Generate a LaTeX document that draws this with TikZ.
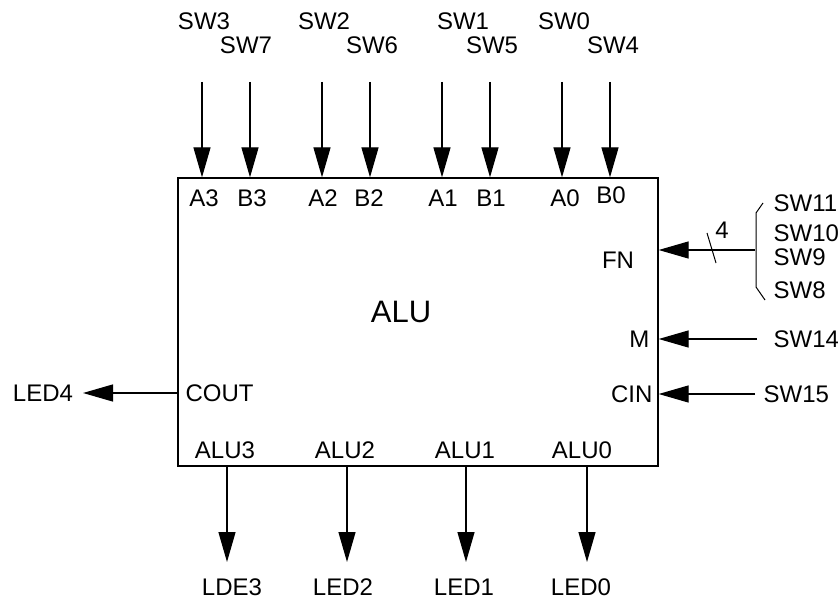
\documentclass[tikz,border=0pt]{standalone}
\usepackage{fontspec}
\setmainfont{Liberation Sans}
\usetikzlibrary{arrows.meta, positioning, calc}

\begin{document}
\begin{tikzpicture}[x=1pt, y=-1pt, line width=1.3pt, font=\fontsize{24}{28}\selectfont,
    sig/.style={-{Triangle[length=30pt,width=17pt]}},
    lab/.style={inner sep=0pt}]
        \useasboundingbox (0,0) rectangle (838,599);
        \node[draw, inner sep=0pt, minimum width=480pt, minimum height=288pt] (alu) at (418,322) {};
        \node[lab, font=\fontsize{31}{35}\selectfont] (name) at (401,312) {ALU};

        % switches on the top
        \node[lab] (sw3) at (204,21) {SW3};
        \node[lab] (sw7) at (246,45) {SW7};
        \node[lab] (sw2) at (324,21) {SW2};
        \node[lab] (sw6) at (372,45) {SW6};
        \node[lab] (sw1) at (463,21) {SW1};
        \node[lab] (sw5) at (492,45) {SW5};
        \node[lab] (sw0) at (564,21) {SW0};
        \node[lab] (sw4) at (613,45) {SW4};

        \node[lab] (a3) at (204,198) {A3};
        \node[lab] (b3) at (252,198) {B3};
        \node[lab] (a2) at (323,198) {A2};
        \node[lab] (b2) at (369,198) {B2};
        \node[lab] (a1) at (443,198) {A1};
        \node[lab] (b1) at (491,198) {B1};
        \node[lab] (a0) at (565,198) {A0};
        \node[lab] (b0) at (611,195) {B0};

        \coordinate (ta3) at (202,82);
        \coordinate (tb3) at (250,82);
        \coordinate (ta2) at (322,82);
        \coordinate (tb2) at (370,82);
        \coordinate (ta1) at (442,82);
        \coordinate (tb1) at (490,82);
        \coordinate (ta0) at (562,82);
        \coordinate (tb0) at (610,82);
        \draw[sig] (ta3) -- (ta3 |- alu.north);
        \draw[sig] (tb3) -- (tb3 |- alu.north);
        \draw[sig] (ta2) -- (ta2 |- alu.north);
        \draw[sig] (tb2) -- (tb2 |- alu.north);
        \draw[sig] (ta1) -- (ta1 |- alu.north);
        \draw[sig] (tb1) -- (tb1 |- alu.north);
        \draw[sig] (ta0) -- (ta0 |- alu.north);
        \draw[sig] (tb0) -- (tb0 |- alu.north);

        % function select bus
        \node[lab] (fn) at (618,260) {FN};
        \coordinate (fnsrc) at (755,250);
        \draw[sig] (fnsrc) -- (fnsrc -| alu.east);
        \draw[line width=1pt] (707,233) -- (716,263);
        \node[lab] (fnw) at (722,230) {4};
        \draw[line width=1pt] (763,203) -- (756,213) -- (756,287) -- (765,300);
        \node[lab, anchor=west] (sw11) at (773,203) {SW11};
        \node[lab, anchor=west] (sw10) at (773,233) {SW10};
        \node[lab, anchor=west] (sw9) at (773,257) {SW9};
        \node[lab, anchor=west] (sw8) at (773,290) {SW8};

        \node[lab, anchor=east] (m) at (650,339) {M};
        \coordinate (msrc) at (757,339);
        \draw[sig] (msrc) -- (msrc -| alu.east);
        \node[lab, anchor=west] (sw14) at (773,339) {SW14};

        \node[lab, anchor=east] (cin) at (653,394) {CIN};
        \coordinate (cinsrc) at (755,394);
        \draw[sig] (cinsrc) -- (cinsrc -| alu.east);
        \node[lab, anchor=west] (sw15) at (763,394) {SW15};

        % carry out
        \node[lab, anchor=west] (cout) at (185,393) {COUT};
        \coordinate (coutend) at (83,393);
        \draw[sig] (coutend -| alu.west) -- (coutend);
        \node[lab] (led4) at (43,393) {LED4};

        % results to the LEDs
        \node[lab] (alu3) at (225,450) {ALU3};
        \node[lab] (alu2) at (345,450) {ALU2};
        \node[lab] (alu1) at (465,450) {ALU1};
        \node[lab] (alu0) at (582,450) {ALU0};

        \coordinate (d3) at (227,562);
        \coordinate (d2) at (347,562);
        \coordinate (d1) at (466,562);
        \coordinate (d0) at (587,562);
        \draw[sig] (d3 |- alu.south) -- (d3);
        \draw[sig] (d2 |- alu.south) -- (d2);
        \draw[sig] (d1 |- alu.south) -- (d1);
        \draw[sig] (d0 |- alu.south) -- (d0);

        \node[lab] (led3) at (232,587) {LDE3};
        \node[lab] (led2) at (343,587) {LED2};
        \node[lab] (led1) at (464,587) {LED1};
        \node[lab] (led0) at (581,587) {LED0};
      \end{tikzpicture}
\end{document}
